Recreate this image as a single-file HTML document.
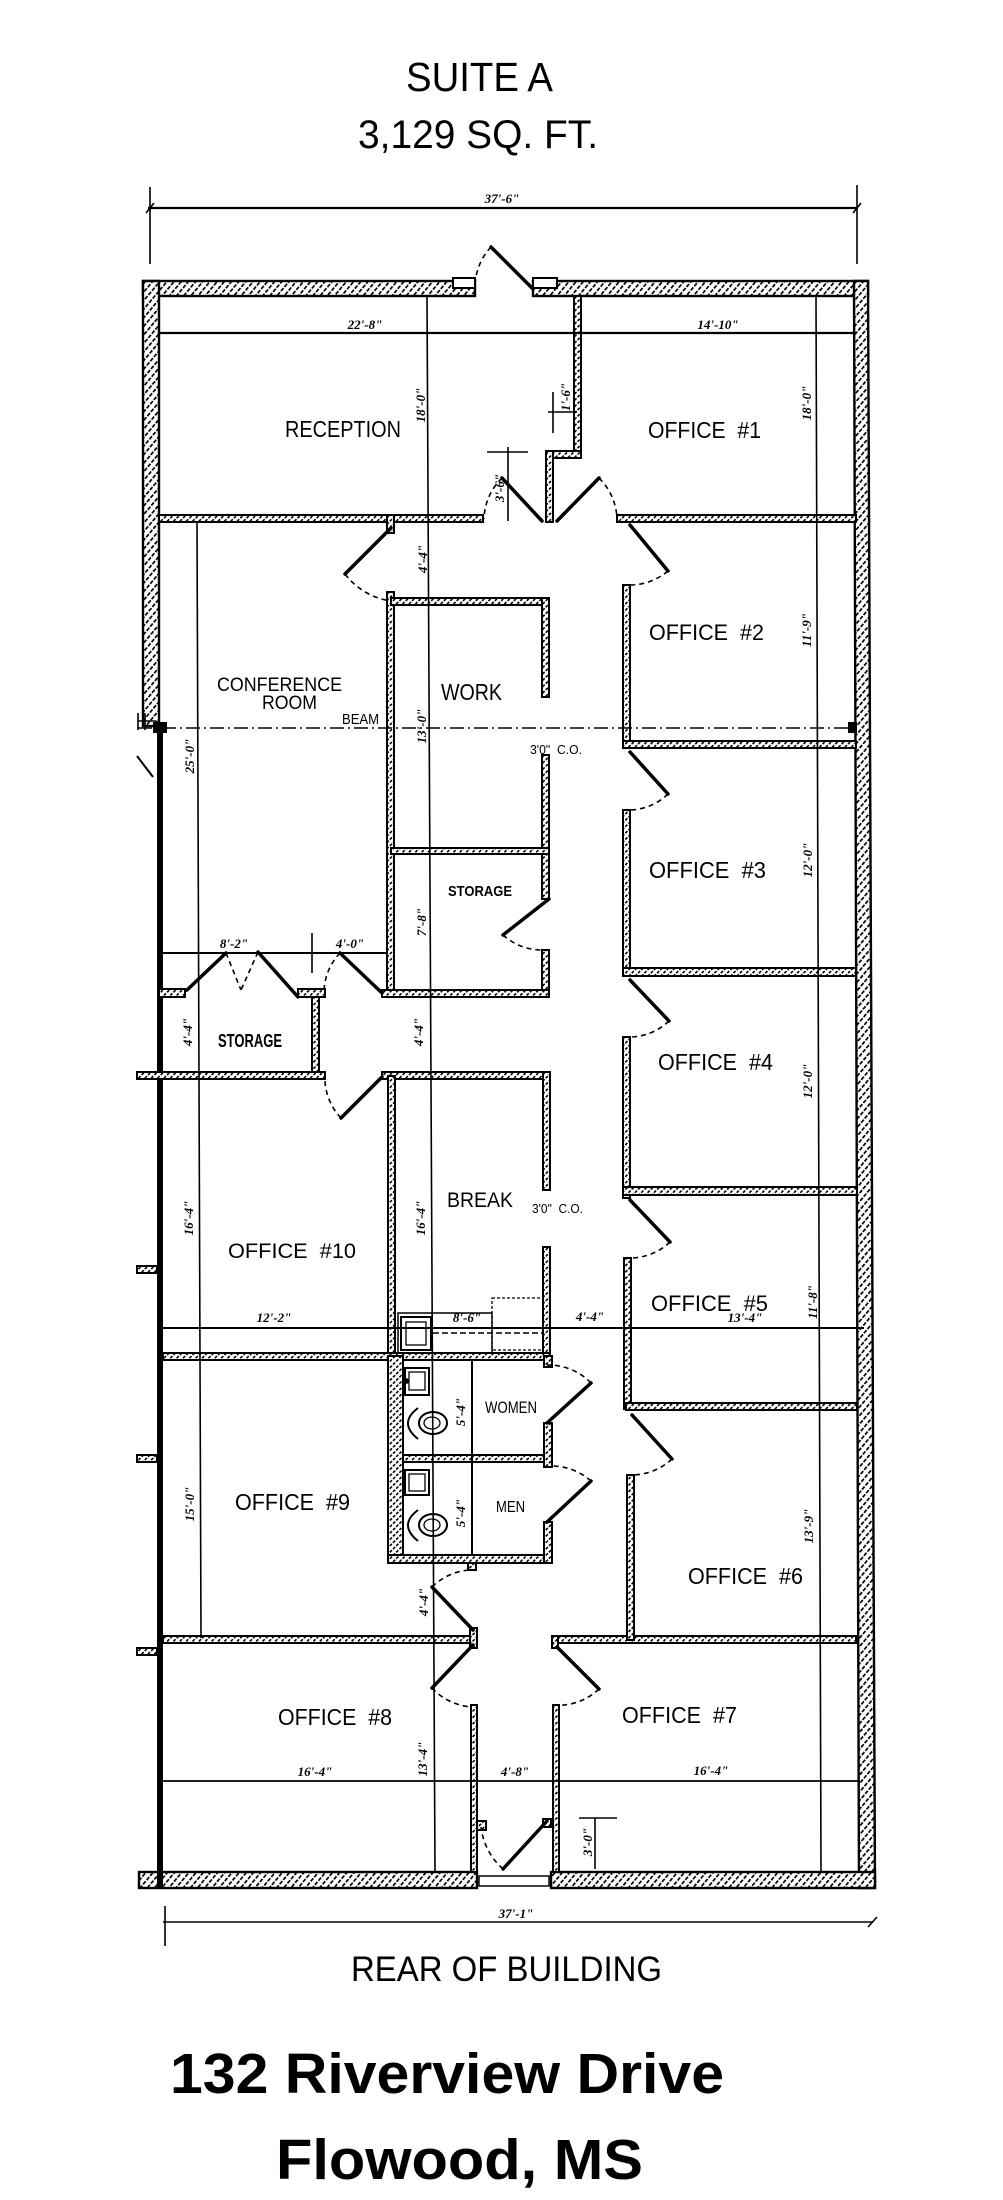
<!DOCTYPE html>
<html><head><meta charset="utf-8"><style>
html,body{margin:0;padding:0;background:#fff;}
svg{display:block;}
.t{font-family:"Liberation Sans",sans-serif;fill:#000;}
.r{font-family:"Liberation Sans",sans-serif;fill:#000;white-space:pre;}
.d{font-family:"Liberation Serif",serif;font-style:italic;font-weight:bold;font-size:13px;fill:#000;}
.w{fill:url(#h);stroke:#000;stroke-width:2;}
.x{fill:url(#h2);stroke:#000;stroke-width:2.4;}
.l{stroke:#000;stroke-width:3.5;fill:none;stroke-linecap:round;}
.a{stroke:#000;stroke-width:1.6;fill:none;stroke-dasharray:5 4;}
.n{stroke:#000;stroke-width:1.6;fill:none;}
</style></head><body>
<svg width="1003" height="2200" viewBox="0 0 1003 2200" xmlns="http://www.w3.org/2000/svg">
<defs>
<pattern id="h" width="4.5" height="4.5" patternUnits="userSpaceOnUse" patternTransform="rotate(45)"><rect width="4.5" height="4.5" fill="#fff"/><rect x="0" y="0" width="1.6" height="3" fill="#000"/></pattern>
<pattern id="h2" width="5.5" height="5.5" patternUnits="userSpaceOnUse" patternTransform="rotate(40)"><rect width="5.5" height="5.5" fill="#fff"/><rect x="0" y="0" width="1.7" height="4" fill="#000"/></pattern>
</defs>
<rect width="1003" height="2200" fill="#fff"/>

<!-- Titles -->
<text class="t" x="406" y="91" font-size="41" textLength="147" lengthAdjust="spacingAndGlyphs">SUITE A</text>
<text class="t" x="358" y="148" font-size="40" textLength="240" lengthAdjust="spacingAndGlyphs">3,129 SQ. FT.</text>

<!-- top dimension -->
<line class="n" x1="148" y1="208" x2="858" y2="208" style="stroke-width:2.2"/>
<line class="n" x1="150" y1="187" x2="150" y2="264"/>
<line class="n" x1="857" y1="185" x2="857" y2="264"/>
<line class="n" x1="146" y1="213" x2="154" y2="203"/>
<line class="n" x1="853" y1="213" x2="861" y2="203"/>
<text class="d" x="502" y="203" text-anchor="middle">37'-6"</text>

<!-- Exterior walls -->
<rect class="x" x="143" y="281" width="332" height="15"/>
<rect class="x" x="533" y="281" width="335" height="15"/>
<rect class="x" x="143" y="281" width="16" height="445"/>
<polygon class="x" points="854,281 868,281 875,1888 859,1888"/>
<rect class="x" x="139" y="1872" width="338" height="16"/>
<rect class="x" x="551" y="1872" width="324" height="16"/>
<rect x="479" y="1876" width="70" height="10" fill="#fff" stroke="#000" stroke-width="1.5"/>
<rect x="453" y="278" width="22" height="10" fill="#fff" stroke="#000" stroke-width="2"/>
<rect x="533" y="278" width="24" height="10" fill="#fff" stroke="#000" stroke-width="2"/>
<rect x="157" y="722" width="6" height="1166" fill="#000"/>

<!-- left markers -->
<rect class="w" x="137" y="1266" width="20" height="7"/>
<rect class="w" x="137" y="1455" width="20" height="7"/>
<rect class="w" x="137" y="1648" width="20" height="7"/>
<line class="n" x1="138" y1="713" x2="138" y2="730"/>
<line class="n" x1="145" y1="713" x2="145" y2="730"/>
<line class="n" x1="138" y1="721" x2="156" y2="721"/>
<line class="n" x1="137" y1="756" x2="153" y2="777" style="stroke-width:2"/>

<!-- Interior walls -->
<rect class="w" x="574" y="296" width="7" height="162"/>
<rect class="w" x="546" y="451" width="35" height="7"/>
<rect class="w" x="546" y="451" width="7" height="71"/>
<rect class="w" x="159" y="515" width="324" height="7"/>
<rect class="w" x="617" y="515" width="239" height="7"/>
<rect class="w" x="387" y="515" width="7" height="18"/>
<rect class="w" x="387" y="592" width="7" height="401"/>
<rect class="w" x="391" y="598" width="158" height="7"/>
<rect class="w" x="542" y="598" width="7" height="99"/>
<rect class="w" x="542" y="755" width="7" height="144"/>
<rect class="w" x="391" y="848" width="158" height="6"/>
<rect class="w" x="542" y="950" width="7" height="47"/>
<rect class="w" x="382" y="990" width="167" height="7"/>
<rect class="w" x="159" y="989" width="26" height="8"/>
<rect class="w" x="298" y="989" width="27" height="8"/>
<rect class="w" x="312" y="997" width="7" height="76"/>
<rect class="w" x="137" y="1072" width="188" height="7"/>
<rect class="w" x="382" y="1072" width="167" height="7"/>
<rect class="w" x="543" y="1072" width="7" height="118"/>
<rect class="w" x="543" y="1247" width="7" height="113"/>
<rect class="w" x="388" y="1076" width="7" height="280"/>
<rect class="w" x="163" y="1353" width="387" height="7"/>
<rect class="w" x="388" y="1356" width="15" height="207"/>
<rect class="w" x="403" y="1455" width="147" height="7"/>
<rect class="w" x="388" y="1555" width="164" height="8"/>
<rect class="w" x="544" y="1423" width="8" height="44"/>
<rect class="w" x="544" y="1522" width="8" height="41"/>
<rect class="w" x="544" y="1356" width="8" height="11"/>
<rect class="w" x="468" y="1563" width="8" height="7"/>
<rect class="w" x="163" y="1636" width="314" height="7"/>
<rect class="w" x="470" y="1628" width="7" height="20"/>
<rect class="w" x="471" y="1705" width="6" height="167"/>
<rect class="w" x="553" y="1705" width="6" height="167"/>
<rect class="w" x="552" y="1636" width="304" height="7"/>
<rect class="w" x="552" y="1636" width="6" height="12"/>
<rect class="w" x="623" y="585" width="7" height="160"/>
<rect class="w" x="623" y="741" width="233" height="7"/>
<rect class="w" x="623" y="810" width="7" height="166"/>
<rect class="w" x="623" y="968" width="233" height="8"/>
<rect class="w" x="623" y="1037" width="7" height="161"/>
<rect class="w" x="623" y="1187" width="234" height="8"/>
<rect class="w" x="624" y="1258" width="7" height="151"/>
<rect class="w" x="626" y="1403" width="231" height="7"/>
<rect class="w" x="627" y="1475" width="7" height="165"/>
<rect class="w" x="477" y="1821" width="9" height="9"/>
<rect class="w" x="543" y="1819" width="8" height="8"/>

<!-- Beam -->
<line x1="138" y1="728" x2="857" y2="728" stroke="#000" stroke-width="1.6" stroke-dasharray="14 4 2 4"/>
<rect x="153" y="722" width="14" height="11" fill="#000"/>
<rect x="848" y="722" width="9" height="11" fill="#000"/>

<!-- Dimension lines -->
<line class="n" x1="427" y1="296" x2="435" y2="1872"/>
<line class="n" x1="197" y1="521" x2="201" y2="1638"/>
<line class="n" x1="816" y1="296" x2="821" y2="1872"/>
<line class="n" x1="159" y1="333" x2="856" y2="333" style="stroke-width:2.2"/>
<line class="n" x1="162" y1="953" x2="388" y2="953" style="stroke-width:2"/>
<line class="n" x1="163" y1="1328" x2="864" y2="1328" style="stroke-width:2"/>
<line class="n" x1="163" y1="1781" x2="860" y2="1781" style="stroke-width:1.8"/>
<line class="n" x1="163" y1="1922" x2="873" y2="1922"/>
<line class="n" x1="165" y1="1906" x2="165" y2="1946"/>
<line class="n" x1="868" y1="1927" x2="877" y2="1917"/>
<line class="n" x1="508" y1="447" x2="508" y2="521"/>
<line class="n" x1="487" y1="452" x2="528" y2="452"/>
<line class="n" x1="553" y1="392" x2="553" y2="433"/>
<line class="n" x1="548" y1="412" x2="577" y2="412"/>
<line class="n" x1="312" y1="933" x2="312" y2="973"/>
<line class="n" x1="595" y1="1818" x2="595" y2="1869"/>
<line class="n" x1="579" y1="1818" x2="617" y2="1818"/>

<!-- Doors -->
<g>
<line class="l" x1="533" y1="289" x2="491" y2="247"/><path class="a" d="M491 247 A59 59 0 0 0 475 287"/>
<line class="l" x1="542" y1="521" x2="502" y2="478"/><path class="a" d="M502 478 A59 59 0 0 0 484 519"/>
<line class="l" x1="557" y1="521" x2="599" y2="478"/><path class="a" d="M599 478 A60 60 0 0 1 617 519"/>
<line class="l" x1="391" y1="528" x2="345" y2="574"/><path class="a" d="M345 574 A70 70 0 0 0 391 601"/>
<line class="l" x1="630" y1="525" x2="668" y2="571"/><path class="a" d="M668 571 A60 60 0 0 1 627 585"/>
<line class="l" x1="630" y1="752" x2="668" y2="794"/><path class="a" d="M668 794 A57 57 0 0 1 627 810"/>
<line class="l" x1="549" y1="899" x2="503" y2="935"/><path class="a" d="M503 935 A58 58 0 0 0 543 950"/>
<line class="l" x1="382" y1="993" x2="340" y2="953"/><path class="a" d="M340 953 A58 58 0 0 0 324 993"/>
<line class="l" x1="187" y1="990" x2="226" y2="953"/><line class="l" x1="298" y1="997" x2="258" y2="952"/>
<line class="a" x1="226" y1="953" x2="241" y2="990"/><line class="a" x1="258" y1="952" x2="241" y2="990"/>
<line class="l" x1="630" y1="980" x2="669" y2="1021"/><path class="a" d="M669 1021 A57 57 0 0 1 630 1037"/>
<line class="l" x1="382" y1="1077" x2="341" y2="1118"/><path class="a" d="M341 1118 A58 58 0 0 1 325 1075"/>
<line class="l" x1="630" y1="1200" x2="670" y2="1242"/><path class="a" d="M670 1242 A58 58 0 0 1 630 1258"/>
<line class="l" x1="547" y1="1423" x2="591" y2="1383"/><path class="a" d="M591 1383 A59 59 0 0 0 547 1365"/>
<line class="l" x1="632" y1="1415" x2="672" y2="1459"/><path class="a" d="M672 1459 A60 60 0 0 1 632 1475"/>
<line class="l" x1="547" y1="1522" x2="591" y2="1481"/><path class="a" d="M591 1481 A60 60 0 0 0 550 1466"/>
<line class="l" x1="473" y1="1630" x2="432" y2="1587"/><path class="a" d="M432 1587 A59 59 0 0 1 470 1570"/>
<line class="l" x1="473" y1="1645" x2="432" y2="1688"/><path class="a" d="M432 1688 A60 60 0 0 0 472 1707"/>
<line class="l" x1="557" y1="1647" x2="599" y2="1689"/><path class="a" d="M599 1689 A59 59 0 0 1 553 1705"/>
<line class="l" x1="547" y1="1821" x2="503" y2="1869"/><path class="a" d="M503 1869 A66 66 0 0 1 481 1827"/>
</g>

<!-- Break fixtures -->
<rect x="398" y="1313" width="94" height="40" fill="none" stroke="#000" stroke-width="1.5"/>
<rect x="401" y="1317" width="30" height="33" fill="none" stroke="#000" stroke-width="2"/>
<rect x="406" y="1322" width="20" height="23" fill="none" stroke="#000" stroke-width="1.3"/>
<rect x="492" y="1298" width="51" height="52" fill="none" stroke="#000" stroke-width="1.3" stroke-dasharray="3 2"/>
<line x1="433" y1="1333" x2="543" y2="1333" stroke="#000" stroke-width="1.5" stroke-dasharray="6 3"/>

<!-- Restroom fixtures -->
<line class="n" x1="472" y1="1360" x2="472" y2="1555" style="stroke-width:2"/>
<rect x="405" y="1368" width="24" height="27" fill="none" stroke="#000" stroke-width="2"/>
<rect x="409" y="1372" width="16" height="18" fill="none" stroke="#000" stroke-width="1.3"/>
<circle cx="406" cy="1381" r="3" fill="#000"/>
<path d="M418 1408 Q398 1423 418 1439" fill="none" stroke="#000" stroke-width="2"/>
<ellipse cx="433" cy="1423" rx="14" ry="11" fill="none" stroke="#000" stroke-width="2"/>
<ellipse cx="432" cy="1423" rx="8" ry="6" fill="none" stroke="#000" stroke-width="1.3"/>
<rect x="405" y="1470" width="24" height="25" fill="none" stroke="#000" stroke-width="2"/>
<rect x="409" y="1474" width="16" height="17" fill="none" stroke="#000" stroke-width="1.3"/>
<path d="M418 1510 Q398 1525 418 1541" fill="none" stroke="#000" stroke-width="2"/>
<ellipse cx="433" cy="1525" rx="14" ry="11" fill="none" stroke="#000" stroke-width="2"/>
<ellipse cx="432" cy="1525" rx="8" ry="6" fill="none" stroke="#000" stroke-width="1.3"/>

<!-- Room labels -->
<text class="r" x="285" y="437" font-size="23" textLength="116" lengthAdjust="spacingAndGlyphs">RECEPTION</text>
<text class="r" x="648" y="438" font-size="23" textLength="113" lengthAdjust="spacingAndGlyphs">OFFICE  #1</text>
<text class="r" x="649" y="640" font-size="22" textLength="115" lengthAdjust="spacingAndGlyphs">OFFICE  #2</text>
<text class="r" x="217" y="691" font-size="19" textLength="125" lengthAdjust="spacingAndGlyphs">CONFERENCE</text>
<text class="r" x="262" y="709" font-size="19" textLength="55" lengthAdjust="spacingAndGlyphs">ROOM</text>
<text class="r" x="441" y="700" font-size="23" textLength="61" lengthAdjust="spacingAndGlyphs">WORK</text>
<text class="r" x="342" y="724" font-size="15" textLength="37" lengthAdjust="spacingAndGlyphs">BEAM</text>
<text class="r" x="530" y="754" font-size="13" textLength="52" lengthAdjust="spacingAndGlyphs">3'0"  C.O.</text>
<text class="r" x="649" y="878" font-size="23" textLength="117" lengthAdjust="spacingAndGlyphs">OFFICE  #3</text>
<text class="r" x="448" y="896" font-size="15" font-weight="bold" textLength="64" lengthAdjust="spacingAndGlyphs">STORAGE</text>
<text class="r" x="218" y="1047" font-size="18" font-weight="bold" textLength="64" lengthAdjust="spacingAndGlyphs">STORAGE</text>
<text class="r" x="658" y="1070" font-size="23" textLength="115" lengthAdjust="spacingAndGlyphs">OFFICE  #4</text>
<text class="r" x="447" y="1207" font-size="21" textLength="66" lengthAdjust="spacingAndGlyphs">BREAK</text>
<text class="r" x="532" y="1213" font-size="13" textLength="51" lengthAdjust="spacingAndGlyphs">3'0"  C.O.</text>
<text class="r" x="228" y="1258" font-size="21" textLength="128" lengthAdjust="spacingAndGlyphs">OFFICE  #10</text>
<text class="r" x="651" y="1311" font-size="22" textLength="117" lengthAdjust="spacingAndGlyphs">OFFICE  #5</text>
<text class="r" x="485" y="1413" font-size="17" textLength="52" lengthAdjust="spacingAndGlyphs">WOMEN</text>
<text class="r" x="496" y="1512" font-size="16" textLength="29" lengthAdjust="spacingAndGlyphs">MEN</text>
<text class="r" x="235" y="1510" font-size="23" textLength="115" lengthAdjust="spacingAndGlyphs">OFFICE  #9</text>
<text class="r" x="688" y="1584" font-size="23" textLength="115" lengthAdjust="spacingAndGlyphs">OFFICE  #6</text>
<text class="r" x="278" y="1725" font-size="23" textLength="114" lengthAdjust="spacingAndGlyphs">OFFICE  #8</text>
<text class="r" x="622" y="1723" font-size="23" textLength="115" lengthAdjust="spacingAndGlyphs">OFFICE  #7</text>

<!-- Horizontal dimension labels -->
<text class="d" x="365" y="329" text-anchor="middle">22'-8"</text>
<text class="d" x="718" y="329" text-anchor="middle">14'-10"</text>
<text class="d" x="234" y="948" text-anchor="middle">8'-2"</text>
<text class="d" x="350" y="948" text-anchor="middle">4'-0"</text>
<text class="d" x="274" y="1322" text-anchor="middle">12'-2"</text>
<text class="d" x="467" y="1322" text-anchor="middle">8'-6"</text>
<text class="d" x="590" y="1321" text-anchor="middle">4'-4"</text>
<text class="d" x="745" y="1322" text-anchor="middle">13'-4"</text>
<text class="d" x="315" y="1776" text-anchor="middle">16'-4"</text>
<text class="d" x="515" y="1776" text-anchor="middle">4'-8"</text>
<text class="d" x="711" y="1775" text-anchor="middle">16'-4"</text>
<text class="d" x="516" y="1918" text-anchor="middle">37'-1"</text>

<!-- Vertical dimension labels -->
<g class="d" text-anchor="middle">
<text transform="translate(420,405) rotate(-90)" y="5">18'-0"</text>
<text transform="translate(422,559) rotate(-90)" y="5">4'-4"</text>
<text transform="translate(421,726) rotate(-90)" y="5">13'-0"</text>
<text transform="translate(421,922) rotate(-90)" y="5">7'-8"</text>
<text transform="translate(418,1032) rotate(-90)" y="5">4'-4"</text>
<text transform="translate(420,1218) rotate(-90)" y="5">16'-4"</text>
<text transform="translate(460,1412) rotate(-90)" y="5">5'-4"</text>
<text transform="translate(460,1513) rotate(-90)" y="5">5'-4"</text>
<text transform="translate(423,1602) rotate(-90)" y="5">4'-4"</text>
<text transform="translate(422,1759) rotate(-90)" y="5">13'-4"</text>
<text transform="translate(587,1842) rotate(-90)" y="5">3'-0"</text>
<text transform="translate(499,488) rotate(-90)" y="5">3'-6"</text>
<text transform="translate(565,397) rotate(-90)" y="5">1'-6"</text>
<text transform="translate(806,403) rotate(-90)" y="5">18'-0"</text>
<text transform="translate(806,630) rotate(-90)" y="5">11'-9"</text>
<text transform="translate(807,860) rotate(-90)" y="5">12'-0"</text>
<text transform="translate(807,1081) rotate(-90)" y="5">12'-0"</text>
<text transform="translate(812,1302) rotate(-90)" y="5">11'-8"</text>
<text transform="translate(808,1526) rotate(-90)" y="5">13'-9"</text>
<text transform="translate(189,756) rotate(-90)" y="5">25'-0"</text>
<text transform="translate(187,1032) rotate(-90)" y="5">4'-4"</text>
<text transform="translate(188,1218) rotate(-90)" y="5">16'-4"</text>
<text transform="translate(189,1504) rotate(-90)" y="5">15'-0"</text>
</g>

<!-- Bottom text -->
<text class="t" x="351" y="1981" font-size="35" textLength="311" lengthAdjust="spacingAndGlyphs">REAR OF BUILDING</text>
<text class="t" x="170" y="2093" font-size="57" font-weight="bold" textLength="554" lengthAdjust="spacingAndGlyphs">132 Riverview Drive</text>
<text class="t" x="276" y="2179" font-size="57" font-weight="bold" textLength="367" lengthAdjust="spacingAndGlyphs">Flowood, MS</text>
</svg>
</body></html>
